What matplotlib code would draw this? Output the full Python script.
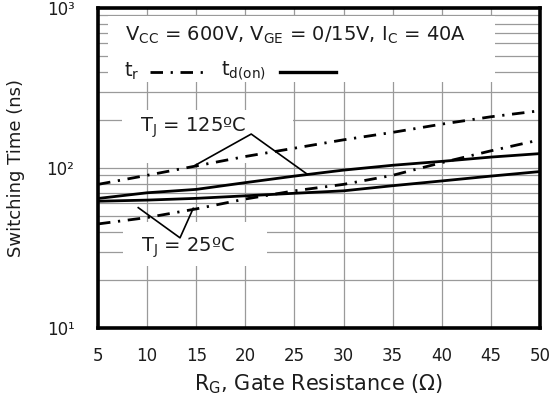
import matplotlib

matplotlib.use("Agg")

import matplotlib.pyplot as plt
from matplotlib.lines import Line2D
from matplotlib.patches import Rectangle

plt.rcParams["font.family"] = ["DejaVu Sans"]
plt.rcParams["mathtext.fontset"] = "custom"
plt.rcParams["mathtext.rm"] = "DejaVu Sans"
plt.rcParams["mathtext.it"] = "DejaVu Sans:italic"
plt.rcParams["lines.scale_dashes"] = False

# gate resistance (ohm) and switching times (ns)
rg = [5, 10, 15, 20, 25, 30, 35, 40, 45, 50]
tr_125 = [79, 90, 103, 118, 133, 150, 167, 188, 209, 228]
td_on_125 = [64.5, 70, 73.5, 81, 89, 97, 104, 110, 117, 123]
tr_25 = [44.7, 49, 55.5, 64, 72, 79, 90, 108, 128, 150]
td_on_25 = [62, 63, 64.6, 67, 69.5, 72, 77.5, 83, 89, 95]

x_ticks = [5, 10, 15, 20, 25, 30, 35, 40, 45, 50]
y_ticks = [10, 100, 1000]
y_tick_labels = ["10¹", "10²", "10³"]

# callout polylines pointing at the curve pairs
call_125_x = [14.9, 20.6, 26.3]
call_125_y = [104, 163, 91.5]
call_25_x = [9.1, 13.35, 14.7]
call_25_y = [56.5, 36.6, 56]

TXT = "#1c1c1c"
DASHDOT = (0, (9.0, 5.5, 1.6, 5.5))
FS = 14

fig = plt.figure(figsize=(5.59, 3.98), dpi=100)
ax = fig.add_axes([0.1753, 0.1759, 0.7907, 0.804])
ax.set_yscale("log")
ax.set_xlim(5, 50)
ax.set_ylim(10, 1000)

ax.set_xticks(x_ticks)
ax.set_xticklabels([str(v) for v in x_ticks])
ax.set_yticks(y_ticks)
ax.set_yticklabels(y_tick_labels)
ax.tick_params(axis="both", which="both", length=0, labelsize=12, colors=TXT)
ax.tick_params(axis="x", pad=14)
ax.tick_params(axis="y", pad=17)

ax.grid(True, which="both", color="#9a9a9a", linewidth=0.9)
ax.set_axisbelow(True)
for s in ax.spines.values():
    s.set_linewidth(2.6)
    s.set_color("black")
    s.set_zorder(6)

# white patches that blank the grid behind the labels
for (x0, x1, y0, y1) in [(6.0, 45.4, 345, 890), (7.45, 24.85, 107, 230), (7.55, 22.2, 24.4, 46)]:
    ax.add_patch(Rectangle((x0, y0), x1 - x0, y1 - y0, facecolor="white",
                           edgecolor="none", zorder=1.5))

ax.plot(rg, tr_125, color="black", lw=2.0, linestyle=DASHDOT, zorder=3)
ax.plot(rg, tr_25, color="black", lw=2.0, linestyle=DASHDOT, zorder=3)
ax.plot(rg, td_on_125, color="black", lw=2.0, zorder=3)
ax.plot(rg, td_on_25, color="black", lw=2.0, zorder=3)

ax.plot(call_125_x, call_125_y, color="black", lw=1.2, zorder=3)
ax.plot(call_25_x, call_25_y, color="black", lw=1.2, zorder=3)

ax.text(9.28, 178, "T$_{\\mathrm{J}}$ = 125ºC", fontsize=FS, color=TXT, va="center", ha="left", zorder=4)
ax.text(9.38, 31.6, "T$_{\\mathrm{J}}$ = 25ºC", fontsize=FS, color=TXT, va="center", ha="left", zorder=4)

ax.text(0.061, 0.916, "V$_{\\mathrm{CC}}$ = 600V, V$_{\\mathrm{GE}}$ = 0/15V, I$_{\\mathrm{C}}$ = 40A",
        transform=ax.transAxes, fontsize=FS, color=TXT, va="center", ha="left", zorder=4)
ax.text(0.059, 0.803, "t$_{\\mathrm{r}}$", transform=ax.transAxes, fontsize=FS, color=TXT,
        va="center", ha="left", zorder=4)
ax.add_line(Line2D([0.118, 0.253], [0.80, 0.80], transform=ax.transAxes, color="black",
                   lw=2.0, linestyle=DASHDOT, zorder=4))
ax.text(0.278, 0.803, "t$_{\\mathrm{d(on)}}$", transform=ax.transAxes, fontsize=FS, color=TXT,
        va="center", ha="left", zorder=4)
ax.add_line(Line2D([0.412, 0.538], [0.80, 0.80], transform=ax.transAxes, color="black",
                   lw=2.4, zorder=4))

ax.set_xlabel("R$_{\\mathrm{G}}$, Gate Resistance (Ω)", fontsize=15, color=TXT)
ax.set_ylabel("Switching Time (ns)", fontsize=13, color=TXT)
ax.xaxis.set_label_coords(0.5, -0.14)
ax.yaxis.set_label_coords(-0.165, 0.5)

fig.savefig("out.png", dpi=100)
